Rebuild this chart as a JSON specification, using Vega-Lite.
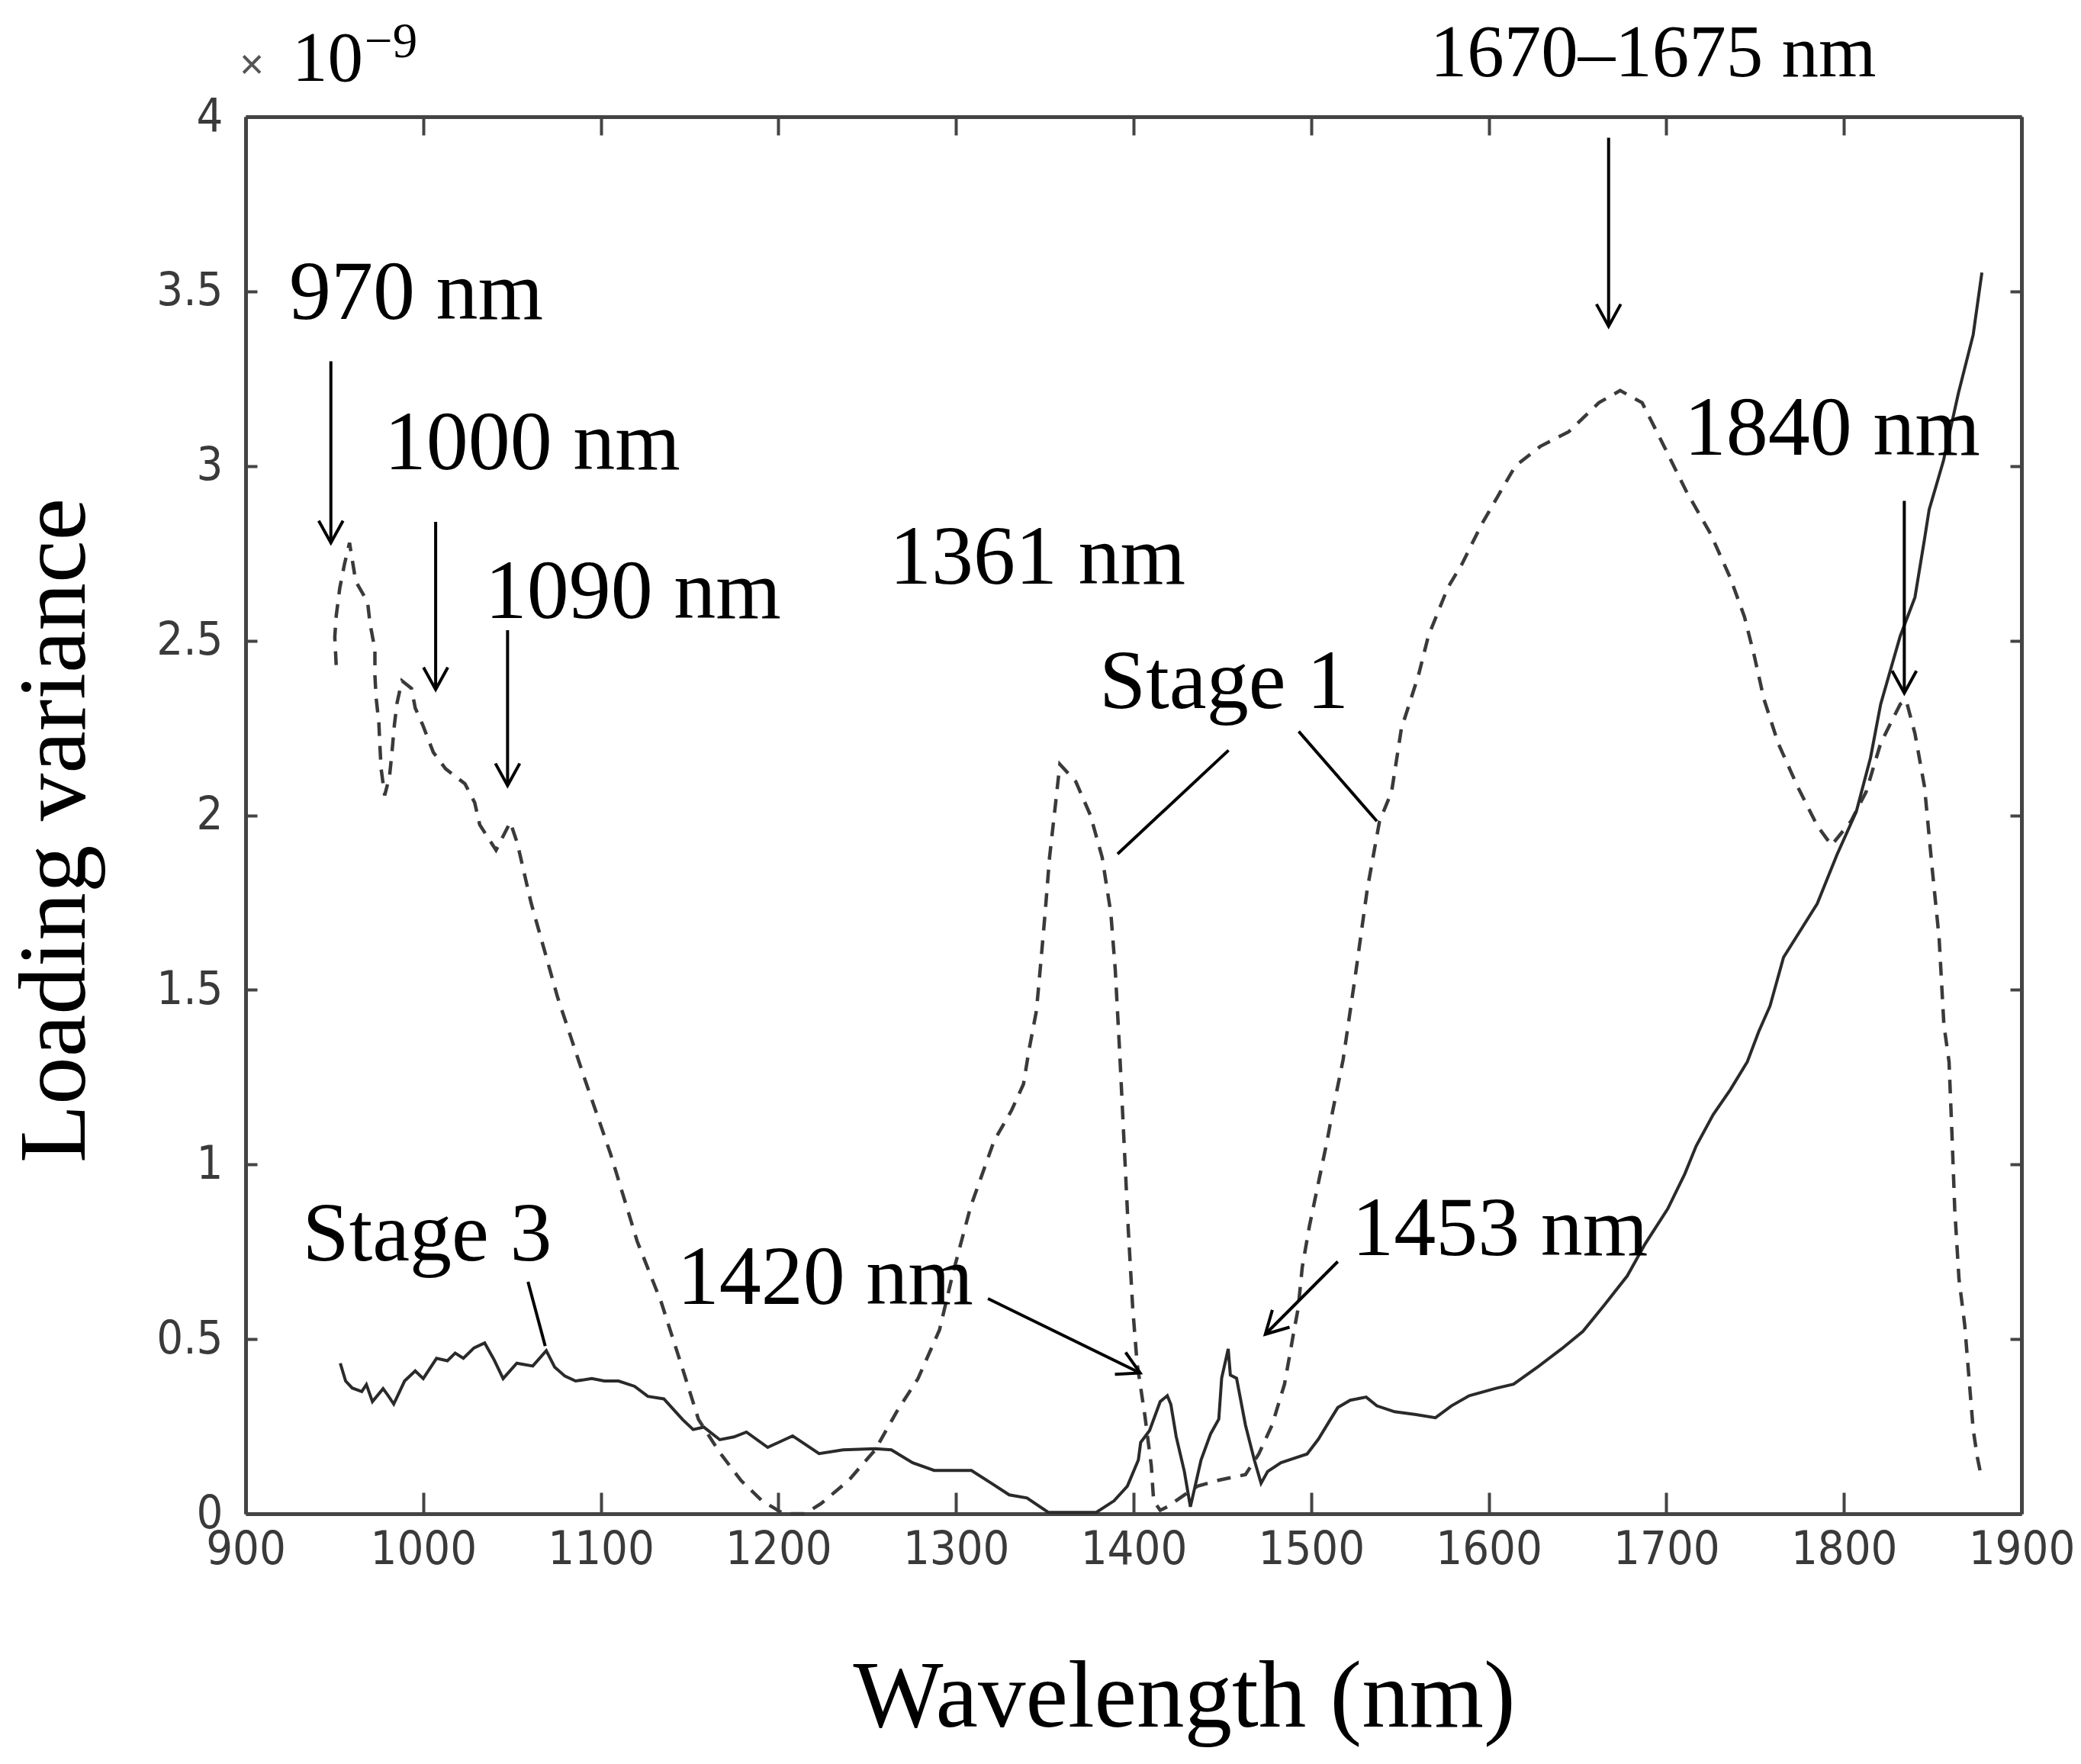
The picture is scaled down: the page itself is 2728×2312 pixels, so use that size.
{
  "$schema": "https://vega.github.io/schema/vega-lite/v6.json",
  "width": 2328,
  "height": 1831,
  "autosize": {"type": "none"},
  "padding": {"left": 322, "top": 153, "right": 78, "bottom": 328},
  "background": "white",
  "config": {"view": {"stroke": null}, "axis": {"grid": false}},
  "datasets": {
    "stage1": [
      {"wl": 951, "v": 2.43}, {"wl": 950.2, "v": 2.51}, {"wl": 951, "v": 2.57}, {"wl": 953, "v": 2.65},
      {"wl": 955.7, "v": 2.72}, {"wl": 958.5, "v": 2.78}, {"wl": 962, "v": 2.67}, {"wl": 968.7, "v": 2.61},
      {"wl": 970, "v": 2.55}, {"wl": 972.8, "v": 2.475}, {"wl": 972.8, "v": 2.4}, {"wl": 973.5, "v": 2.335},
      {"wl": 975, "v": 2.266}, {"wl": 975.6, "v": 2.2}, {"wl": 976.3, "v": 2.133}, {"wl": 978.3, "v": 2.057},
      {"wl": 981, "v": 2.11}, {"wl": 982.4, "v": 2.18}, {"wl": 983.8, "v": 2.26}, {"wl": 985.2, "v": 2.32},
      {"wl": 988, "v": 2.385}, {"wl": 993.4, "v": 2.363}, {"wl": 995.5, "v": 2.307}, {"wl": 999.6, "v": 2.26},
      {"wl": 1005.7, "v": 2.18}, {"wl": 1012.6, "v": 2.133}, {"wl": 1023.5, "v": 2.09}, {"wl": 1029, "v": 2.036},
      {"wl": 1031.8, "v": 1.973}, {"wl": 1041, "v": 1.9}, {"wl": 1049, "v": 1.98}, {"wl": 1053, "v": 1.92},
      {"wl": 1060.7, "v": 1.75}, {"wl": 1075.6, "v": 1.48}, {"wl": 1090.6, "v": 1.25}, {"wl": 1105.5, "v": 1.03},
      {"wl": 1120.5, "v": 0.78}, {"wl": 1134, "v": 0.606}, {"wl": 1146, "v": 0.416}, {"wl": 1155, "v": 0.27},
      {"wl": 1167, "v": 0.175}, {"wl": 1179, "v": 0.095}, {"wl": 1191, "v": 0.036}, {"wl": 1203, "v": 0.0},
      {"wl": 1215, "v": 0.0}, {"wl": 1224, "v": 0.029}, {"wl": 1239.5, "v": 0.095}, {"wl": 1254.5, "v": 0.183},
      {"wl": 1266.6, "v": 0.292}, {"wl": 1278.6, "v": 0.387}, {"wl": 1290.7, "v": 0.526}, {"wl": 1298.4, "v": 0.691},
      {"wl": 1308.3, "v": 0.88}, {"wl": 1321.5, "v": 1.068}, {"wl": 1331.3, "v": 1.155}, {"wl": 1338, "v": 1.23},
      {"wl": 1341.2, "v": 1.33}, {"wl": 1345.3, "v": 1.44}, {"wl": 1347.8, "v": 1.58}, {"wl": 1350.2, "v": 1.72},
      {"wl": 1352.7, "v": 1.88}, {"wl": 1356, "v": 2.03}, {"wl": 1358.5, "v": 2.146}, {"wl": 1367.5, "v": 2.096},
      {"wl": 1375.7, "v": 2.0}, {"wl": 1382.3, "v": 1.88}, {"wl": 1387.2, "v": 1.72}, {"wl": 1389.7, "v": 1.557},
      {"wl": 1392.2, "v": 1.32}, {"wl": 1394.6, "v": 1.068}, {"wl": 1397, "v": 0.817}, {"wl": 1399.5, "v": 0.591},
      {"wl": 1402, "v": 0.43}, {"wl": 1406.4, "v": 0.28}, {"wl": 1410, "v": 0.137}, {"wl": 1411.3, "v": 0.037},
      {"wl": 1415, "v": 0.01}, {"wl": 1419, "v": 0.02}, {"wl": 1428.6, "v": 0.054}, {"wl": 1436, "v": 0.079},
      {"wl": 1448, "v": 0.096}, {"wl": 1463, "v": 0.112}, {"wl": 1470.5, "v": 0.171}, {"wl": 1478, "v": 0.254},
      {"wl": 1485, "v": 0.371}, {"wl": 1490, "v": 0.514}, {"wl": 1492.7, "v": 0.589}, {"wl": 1495, "v": 0.706},
      {"wl": 1499, "v": 0.823}, {"wl": 1505, "v": 0.97}, {"wl": 1509, "v": 1.068}, {"wl": 1512, "v": 1.15},
      {"wl": 1518, "v": 1.3}, {"wl": 1524.8, "v": 1.538}, {"wl": 1531.6, "v": 1.788}, {"wl": 1538.5, "v": 1.983},
      {"wl": 1545.3, "v": 2.067}, {"wl": 1550.8, "v": 2.248}, {"wl": 1560.4, "v": 2.4}, {"wl": 1566, "v": 2.513},
      {"wl": 1577, "v": 2.652}, {"wl": 1585, "v": 2.72}, {"wl": 1596, "v": 2.833}, {"wl": 1607, "v": 2.93},
      {"wl": 1615, "v": 3.0}, {"wl": 1629, "v": 3.056}, {"wl": 1645, "v": 3.098}, {"wl": 1662, "v": 3.181},
      {"wl": 1674, "v": 3.216}, {"wl": 1686.4, "v": 3.181}, {"wl": 1697.4, "v": 3.07}, {"wl": 1711, "v": 2.93},
      {"wl": 1725, "v": 2.805}, {"wl": 1736, "v": 2.68}, {"wl": 1744, "v": 2.568}, {"wl": 1749.5, "v": 2.457},
      {"wl": 1755, "v": 2.332}, {"wl": 1763, "v": 2.206}, {"wl": 1774, "v": 2.081}, {"wl": 1785, "v": 1.97},
      {"wl": 1793, "v": 1.914}, {"wl": 1804, "v": 1.983}, {"wl": 1812.5, "v": 2.067}, {"wl": 1820.7, "v": 2.206},
      {"wl": 1831.7, "v": 2.318}, {"wl": 1835, "v": 2.33}, {"wl": 1840, "v": 2.234}, {"wl": 1845.4, "v": 2.081},
      {"wl": 1849.5, "v": 1.858}, {"wl": 1853.6, "v": 1.649}, {"wl": 1856.3, "v": 1.4}, {"wl": 1859.2, "v": 1.294},
      {"wl": 1860.8, "v": 1.093}, {"wl": 1862.4, "v": 0.873}, {"wl": 1864.8, "v": 0.672}, {"wl": 1868, "v": 0.542},
      {"wl": 1870.4, "v": 0.391}, {"wl": 1872.8, "v": 0.241}, {"wl": 1875.2, "v": 0.16}, {"wl": 1877.6, "v": 0.1}
    ],
    "stage3": [
      {"wl": 953.3, "v": 0.431}, {"wl": 956.3, "v": 0.38}, {"wl": 960, "v": 0.36}, {"wl": 965.4, "v": 0.35},
      {"wl": 968, "v": 0.37}, {"wl": 971.4, "v": 0.321}, {"wl": 977.4, "v": 0.358}, {"wl": 980, "v": 0.34},
      {"wl": 983.4, "v": 0.314}, {"wl": 989.5, "v": 0.38}, {"wl": 995.5, "v": 0.409}, {"wl": 1000, "v": 0.387},
      {"wl": 1007.5, "v": 0.445}, {"wl": 1013.6, "v": 0.438}, {"wl": 1018, "v": 0.46}, {"wl": 1022.6, "v": 0.445},
      {"wl": 1028.6, "v": 0.475}, {"wl": 1034.6, "v": 0.489}, {"wl": 1040, "v": 0.44}, {"wl": 1045, "v": 0.387},
      {"wl": 1052.7, "v": 0.431}, {"wl": 1061.7, "v": 0.423}, {"wl": 1069.3, "v": 0.467}, {"wl": 1074, "v": 0.42},
      {"wl": 1079.8, "v": 0.394}, {"wl": 1085.8, "v": 0.38}, {"wl": 1094.9, "v": 0.387}, {"wl": 1102, "v": 0.38},
      {"wl": 1110, "v": 0.38}, {"wl": 1119, "v": 0.365}, {"wl": 1126.5, "v": 0.336}, {"wl": 1135.5, "v": 0.329},
      {"wl": 1146, "v": 0.27}, {"wl": 1152, "v": 0.241}, {"wl": 1158, "v": 0.248}, {"wl": 1167, "v": 0.212},
      {"wl": 1175, "v": 0.22}, {"wl": 1182, "v": 0.234}, {"wl": 1194, "v": 0.19}, {"wl": 1208, "v": 0.223},
      {"wl": 1222.9, "v": 0.172}, {"wl": 1236.4, "v": 0.183}, {"wl": 1254.5, "v": 0.186}, {"wl": 1263.6, "v": 0.183},
      {"wl": 1275.6, "v": 0.146}, {"wl": 1287.7, "v": 0.124}, {"wl": 1308.7, "v": 0.124}, {"wl": 1320, "v": 0.087},
      {"wl": 1330, "v": 0.054}, {"wl": 1340, "v": 0.045}, {"wl": 1352, "v": 0.004}, {"wl": 1379, "v": 0.004},
      {"wl": 1389, "v": 0.037}, {"wl": 1396.5, "v": 0.079}, {"wl": 1402.7, "v": 0.154}, {"wl": 1404, "v": 0.204},
      {"wl": 1409, "v": 0.238}, {"wl": 1415, "v": 0.321}, {"wl": 1419, "v": 0.338}, {"wl": 1421, "v": 0.313},
      {"wl": 1424, "v": 0.221}, {"wl": 1428.6, "v": 0.121}, {"wl": 1432, "v": 0.02}, {"wl": 1438, "v": 0.154},
      {"wl": 1443.4, "v": 0.229}, {"wl": 1448, "v": 0.271}, {"wl": 1449.6, "v": 0.388}, {"wl": 1453.3, "v": 0.472},
      {"wl": 1454.5, "v": 0.397}, {"wl": 1458, "v": 0.388}, {"wl": 1463, "v": 0.254}, {"wl": 1468, "v": 0.154},
      {"wl": 1471.8, "v": 0.087}, {"wl": 1475.5, "v": 0.121}, {"wl": 1483, "v": 0.146}, {"wl": 1490, "v": 0.158},
      {"wl": 1497.7, "v": 0.171}, {"wl": 1504, "v": 0.213}, {"wl": 1510, "v": 0.263}, {"wl": 1515, "v": 0.304},
      {"wl": 1522, "v": 0.325}, {"wl": 1531, "v": 0.334}, {"wl": 1537, "v": 0.309}, {"wl": 1547, "v": 0.292},
      {"wl": 1559, "v": 0.284}, {"wl": 1570, "v": 0.275}, {"wl": 1579, "v": 0.309}, {"wl": 1589, "v": 0.338},
      {"wl": 1604, "v": 0.359}, {"wl": 1614, "v": 0.371}, {"wl": 1628, "v": 0.422}, {"wl": 1641, "v": 0.472},
      {"wl": 1653, "v": 0.522}, {"wl": 1665, "v": 0.597}, {"wl": 1678, "v": 0.681}, {"wl": 1688, "v": 0.772},
      {"wl": 1700.8, "v": 0.873}, {"wl": 1710.4, "v": 0.973}, {"wl": 1716.8, "v": 1.053}, {"wl": 1726.4, "v": 1.143},
      {"wl": 1736, "v": 1.214}, {"wl": 1745.6, "v": 1.294}, {"wl": 1752, "v": 1.38}, {"wl": 1758.4, "v": 1.454},
      {"wl": 1766, "v": 1.593}, {"wl": 1785, "v": 1.747}, {"wl": 1796, "v": 1.886}, {"wl": 1807, "v": 2.011},
      {"wl": 1815, "v": 2.165}, {"wl": 1820.7, "v": 2.318}, {"wl": 1831.7, "v": 2.513}, {"wl": 1840, "v": 2.624},
      {"wl": 1845.4, "v": 2.791}, {"wl": 1848, "v": 2.875}, {"wl": 1856, "v": 3.014}, {"wl": 1864.5, "v": 3.209},
      {"wl": 1872.8, "v": 3.376}, {"wl": 1877.7, "v": 3.554}
    ],
    "arrows": [
      {"name": "970 nm", "dir": "down", "x": 948, "y": 3.3, "x2": 948, "y2": 2.78},
      {"name": "1000 nm", "dir": "down", "x": 1007, "y": 2.84, "x2": 1007, "y2": 2.36},
      {"name": "1090 nm", "dir": "down", "x": 1047.5, "y": 2.53, "x2": 1047.5, "y2": 2.085},
      {"name": "1670-1675 nm", "dir": "down", "x": 1667.5, "y": 3.94, "x2": 1667.5, "y2": 3.4},
      {"name": "1840 nm", "dir": "down", "x": 1834, "y": 2.9, "x2": 1834, "y2": 2.35},
      {"name": "1420 nm", "dir": "se", "x": 1318, "y": 0.616, "x2": 1403.7, "y2": 0.403},
      {"name": "1453 nm", "dir": "sw", "x": 1515, "y": 0.722, "x2": 1474.2, "y2": 0.514},
      {"name": "Stage 1 left", "dir": "none", "x": 1453.5, "y": 2.186, "x2": 1391, "y2": 1.889},
      {"name": "Stage 1 right", "dir": "none", "x": 1493, "y": 2.24, "x2": 1537, "y2": 1.983},
      {"name": "Stage 3", "dir": "none", "x": 1059, "y": 0.664, "x2": 1068.7, "y2": 0.48}
    ],
    "labels": [
      {"text": "970 nm", "x": 924.5, "y": 3.421},
      {"text": "1000 nm", "x": 978.1, "y": 2.99},
      {"text": "1090 nm", "x": 1034.8, "y": 2.565},
      {"text": "1361 nm", "x": 1262.5, "y": 2.662},
      {"text": "Stage 1", "x": 1380.7, "y": 2.308},
      {"text": "1840 nm", "x": 1710, "y": 3.033},
      {"text": "Stage 3", "x": 932, "y": 0.725},
      {"text": "1420 nm", "x": 1143, "y": 0.6},
      {"text": "1453 nm", "x": 1523, "y": 0.741}
    ],
    "toplabel": [{"text": "1670–1675 nm", "x": 1567, "y": 4.116}],
    "exp10": [{"text": "10", "x": 926.2, "y": 4.103}],
    "expminus": [{"text": "−9", "x": 967, "y": 4.17}],
    "exptimes": [{"text": "×", "x": 896.6, "y": 4.109}]
  },
  "resolve": {"axis": {"x": "independent", "y": "independent"}},
  "layer": [
    {
      "data": {"name": "stage1"},
      "mark": {"type": "line", "color": "#3a3a3a", "strokeWidth": 4.5, "strokeDash": [18, 13]},
      "encoding": {
        "x": {
          "field": "wl", "type": "quantitative",
          "scale": {"domain": [900, 1900], "nice": false, "zero": false},
          "axis": {
            "orient": "bottom",
            "values": [900, 1000, 1100, 1200, 1300, 1400, 1500, 1600, 1700, 1800, 1900],
            "format": "d",
            "labelFont": "DejaVu Sans Condensed, Liberation Sans Narrow, sans-serif",
            "labelFontSize": 61, "labelColor": "#3a3a3a", "labelPadding": 45, "labelOverlap": false, "labelFlush": false,
            "tickSize": -28, "tickWidth": 4, "tickColor": "#444444",
            "domainColor": "#444444", "domainWidth": 5,
            "title": "Wavelength (nm)", "titleFont": "Liberation Serif", "titleFontSize": 125, "titleFontWeight": "normal",
            "titleColor": "#000000", "titleX": 1230, "titleY": 278, "titleBaseline": "alphabetic", "titleAlign": "center"
          }
        },
        "y": {
          "field": "v", "type": "quantitative",
          "scale": {"domain": [0, 4], "nice": false, "zero": false},
          "axis": {
            "orient": "left",
            "values": [0, 0.5, 1, 1.5, 2, 2.5, 3, 3.5, 4],
            "format": "~g",
            "labelFont": "DejaVu Sans Condensed, Liberation Sans Narrow, sans-serif",
            "labelFontSize": 61, "labelColor": "#3a3a3a", "labelPadding": 45, "labelOverlap": false, "labelFlush": false,
            "tickSize": -15, "tickWidth": 4, "tickColor": "#444444",
            "domainColor": "#444444", "domainWidth": 5,
            "title": "Loading variance", "titleFont": "Liberation Serif", "titleFontSize": 125, "titleFontWeight": "normal",
            "titleColor": "#000000", "titleAngle": 270, "titleX": -212, "titleY": 935, "titleBaseline": "alphabetic", "titleAlign": "center"
          }
        },
        "order": {"value": null}
      }
    },
    {
      "data": {"name": "stage3"},
      "mark": {"type": "line", "color": "#2a2a2a", "strokeWidth": 4},
      "encoding": {
        "x": {"field": "wl", "type": "quantitative", "scale": {"domain": [900, 1900], "nice": false, "zero": false}, "axis": null},
        "y": {"field": "v", "type": "quantitative", "scale": {"domain": [0, 4], "nice": false, "zero": false}, "axis": null},
        "order": {"value": null}
      }
    },
    {
      "data": {"name": "stage3"},
      "mark": {"type": "line", "strokeOpacity": 0},
      "encoding": {
        "x": {
          "field": "wl", "type": "quantitative", "scale": {"domain": [900, 1900], "nice": false, "zero": false},
          "axis": {
            "orient": "top", "labels": false, "title": null,
            "values": [900, 1000, 1100, 1200, 1300, 1400, 1500, 1600, 1700, 1800, 1900],
            "tickSize": -24, "tickWidth": 4, "tickColor": "#444444", "domainColor": "#444444", "domainWidth": 5
          }
        },
        "y": {
          "field": "v", "type": "quantitative", "scale": {"domain": [0, 4], "nice": false, "zero": false},
          "axis": {
            "orient": "right", "labels": false, "title": null,
            "values": [0, 0.5, 1, 1.5, 2, 2.5, 3, 3.5, 4],
            "tickSize": -15, "tickWidth": 4, "tickColor": "#444444", "domainColor": "#444444", "domainWidth": 5
          }
        }
      }
    },
    {
      "data": {"name": "arrows"},
      "mark": {"type": "rule", "color": "#000000", "strokeWidth": 4},
      "encoding": {
        "x": {"field": "x", "type": "quantitative", "scale": {"domain": [900, 1900], "nice": false, "zero": false}, "axis": null},
        "x2": {"field": "x2"},
        "y": {"field": "y", "type": "quantitative", "scale": {"domain": [0, 4], "nice": false, "zero": false}, "axis": null},
        "y2": {"field": "y2"}
      }
    },
    {
      "data": {"name": "arrows"},
      "transform": [{"filter": "datum.dir === 'down'"}],
      "mark": {"type": "point", "shape": "M -0.55 -1 L 0 0 L 0.55 -1", "filled": false, "stroke": "#000000", "strokeWidth": 4, "size": 3364, "opacity": 1, "angle": 0},
      "encoding": {
        "x": {"field": "x2", "type": "quantitative", "scale": {"domain": [900, 1900], "nice": false, "zero": false}, "axis": null},
        "y": {"field": "y2", "type": "quantitative", "scale": {"domain": [0, 4], "nice": false, "zero": false}, "axis": null}
      }
    },
    {
      "data": {"name": "arrows"},
      "transform": [{"filter": "datum.dir === 'se'"}],
      "mark": {"type": "point", "shape": "M -0.55 -1 L 0 0 L 0.55 -1", "filled": false, "stroke": "#000000", "strokeWidth": 4, "size": 3364, "opacity": 1, "angle": 296},
      "encoding": {
        "x": {"field": "x2", "type": "quantitative", "scale": {"domain": [900, 1900], "nice": false, "zero": false}, "axis": null},
        "y": {"field": "y2", "type": "quantitative", "scale": {"domain": [0, 4], "nice": false, "zero": false}, "axis": null}
      }
    },
    {
      "data": {"name": "arrows"},
      "transform": [{"filter": "datum.dir === 'sw'"}],
      "mark": {"type": "point", "shape": "M -0.55 -1 L 0 0 L 0.55 -1", "filled": false, "stroke": "#000000", "strokeWidth": 4, "size": 3364, "opacity": 1, "angle": 45},
      "encoding": {
        "x": {"field": "x2", "type": "quantitative", "scale": {"domain": [900, 1900], "nice": false, "zero": false}, "axis": null},
        "y": {"field": "y2", "type": "quantitative", "scale": {"domain": [0, 4], "nice": false, "zero": false}, "axis": null}
      }
    },
    {
      "data": {"name": "labels"},
      "mark": {"type": "text", "font": "Liberation Serif", "fontSize": 110, "align": "left", "baseline": "alphabetic", "color": "#000000"},
      "encoding": {
        "x": {"field": "x", "type": "quantitative", "scale": {"domain": [900, 1900], "nice": false, "zero": false}, "axis": null},
        "y": {"field": "y", "type": "quantitative", "scale": {"domain": [0, 4], "nice": false, "zero": false}, "axis": null},
        "text": {"field": "text"}
      }
    },
    {
      "data": {"name": "toplabel"},
      "mark": {"type": "text", "font": "Liberation Serif", "fontSize": 97, "align": "left", "baseline": "alphabetic", "color": "#000000"},
      "encoding": {
        "x": {"field": "x", "type": "quantitative", "scale": {"domain": [900, 1900], "nice": false, "zero": false}, "axis": null},
        "y": {"field": "y", "type": "quantitative", "scale": {"domain": [0, 4], "nice": false, "zero": false}, "axis": null},
        "text": {"field": "text"}
      }
    },
    {
      "data": {"name": "exp10"},
      "mark": {"type": "text", "font": "Liberation Serif", "fontSize": 93, "align": "left", "baseline": "alphabetic", "color": "#000000"},
      "encoding": {
        "x": {"field": "x", "type": "quantitative", "scale": {"domain": [900, 1900], "nice": false, "zero": false}, "axis": null},
        "y": {"field": "y", "type": "quantitative", "scale": {"domain": [0, 4], "nice": false, "zero": false}, "axis": null},
        "text": {"field": "text"}
      }
    },
    {
      "data": {"name": "expminus"},
      "mark": {"type": "text", "font": "Liberation Serif", "fontSize": 65, "align": "left", "baseline": "alphabetic", "color": "#000000"},
      "encoding": {
        "x": {"field": "x", "type": "quantitative", "scale": {"domain": [900, 1900], "nice": false, "zero": false}, "axis": null},
        "y": {"field": "y", "type": "quantitative", "scale": {"domain": [0, 4], "nice": false, "zero": false}, "axis": null},
        "text": {"field": "text"}
      }
    },
    {
      "data": {"name": "exptimes"},
      "mark": {"type": "text", "font": "Liberation Sans", "fontSize": 55, "align": "left", "baseline": "alphabetic", "color": "#555555"},
      "encoding": {
        "x": {"field": "x", "type": "quantitative", "scale": {"domain": [900, 1900], "nice": false, "zero": false}, "axis": null},
        "y": {"field": "y", "type": "quantitative", "scale": {"domain": [0, 4], "nice": false, "zero": false}, "axis": null},
        "text": {"field": "text"}
      }
    }
  ]
}
